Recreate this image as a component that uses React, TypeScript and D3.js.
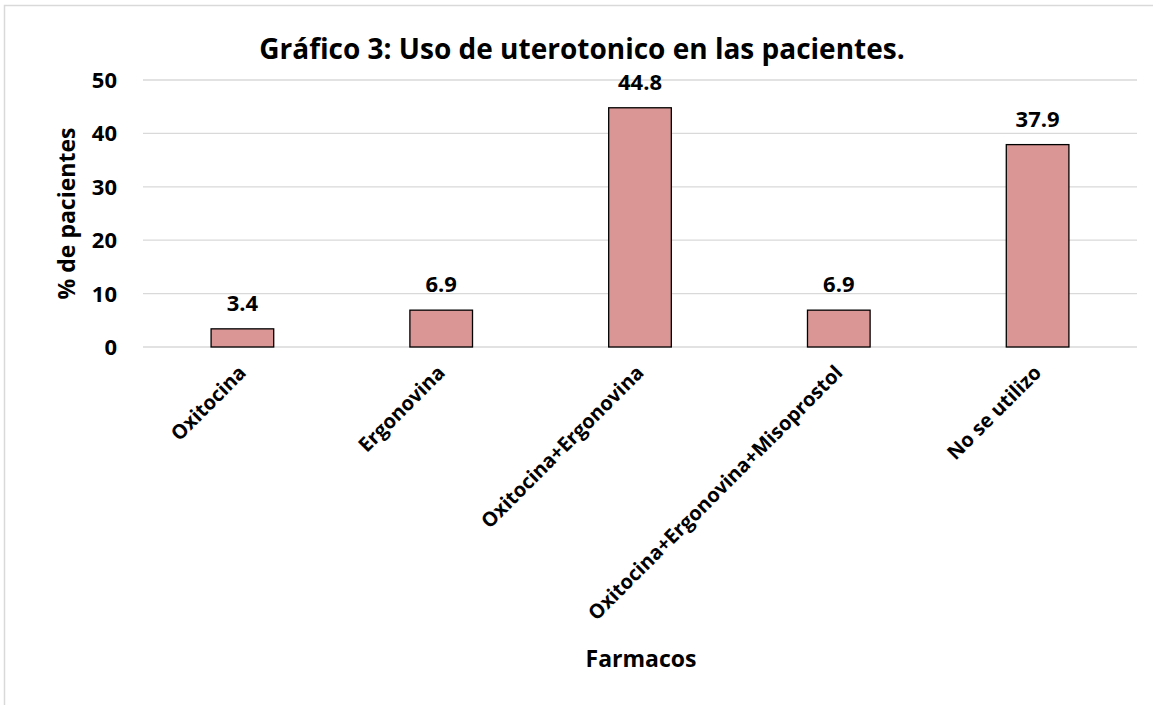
import React, { useEffect, useRef } from 'react'
import * as d3 from 'd3'

const categories = ['Oxitocina', 'Ergonovina', 'Oxitocina+Ergonovina', 'Oxitocina+Ergonovina+Misoprostol', 'No se utilizo']
const values = [3.4, 6.9, 44.8, 6.9, 37.9]
const yTicks = [0, 10, 20, 30, 40, 50]

const FONT = '"Open Sans", "Noto Sans", sans-serif'

export default function App() {
  const ref = useRef<SVGSVGElement | null>(null)

  useEffect(() => {
    const width = 1153
    const height = 705
    const margin = { top: 80, right: 16, bottom: 358, left: 143 }
    const svg = d3.select(ref.current!)
    svg.selectAll('*').remove()

    // chart frame
    svg.append('rect').attr('x', 4.5).attr('y', 5.5).attr('width', width + 10).attr('height', height + 10)
      .attr('fill', '#fff').attr('stroke', '#d9d9d9').attr('stroke-width', 1.5)

    const x = d3.scaleBand<string>().domain(categories).range([margin.left, width - margin.right]).paddingInner(0.685).paddingOuter(0.3425)
    const y = d3.scaleLinear().domain([0, 50]).range([height - margin.bottom, margin.top])

    const g = svg.append('g')
    g.append('g').selectAll('line').data(yTicks).enter().append('line')
      .attr('x1', margin.left).attr('x2', width - margin.right)
      .attr('y1', d => y(d)).attr('y2', d => y(d))
      .attr('stroke', '#d9d9d9').attr('stroke-width', 1.3)

    g.append('g').selectAll('text').data(yTicks).enter().append('text')
      .attr('x', 117).attr('y', d => y(d)).attr('dy', '0.36em').attr('text-anchor', 'end')
      .attr('font-family', FONT).attr('font-weight', 700).attr('font-size', 22).text(d => d)

    g.append('g').selectAll('rect').data(values).enter().append('rect')
      .attr('x', (d, i) => x(categories[i]) ?? 0)
      .attr('y', d => y(d))
      .attr('width', x.bandwidth())
      .attr('height', d => y(0) - y(d))
      .attr('fill', '#d99694').attr('stroke', '#000').attr('stroke-width', 1.3)

    g.append('g').selectAll('text').data(values).enter().append('text')
      .attr('x', (d, i) => (x(categories[i]) ?? 0) + x.bandwidth() / 2)
      .attr('y', d => y(d) - 18)
      .attr('text-anchor', 'middle')
      .attr('font-family', FONT).attr('font-weight', 700).attr('font-size', 22).text(d => d.toFixed(1))

    g.append('g').selectAll('text').data(categories).enter().append('text')
      .attr('transform', d => `translate(${(x(d) ?? 0) + x.bandwidth() / 2 + 5},${y(0) + 27}) rotate(-45)`)
      .attr('text-anchor', 'end')
      .attr('font-family', FONT).attr('font-weight', 700).attr('font-size', 20).text(d => d)

    svg.append('text').attr('x', 582).attr('y', 59).attr('text-anchor', 'middle')
      .attr('font-family', FONT).attr('font-weight', 700).attr('font-size', 28)
      .text('Gráfico 3: Uso de uterotonico en las pacientes.')

    svg.append('text').attr('transform', `translate(75,${(y(0) + y(50)) / 2}) rotate(-90)`).attr('text-anchor', 'middle')
      .attr('font-family', FONT).attr('font-weight', 700).attr('font-size', 23).text('% de pacientes')

    svg.append('text').attr('x', 641).attr('y', 667).attr('text-anchor', 'middle')
      .attr('font-family', FONT).attr('font-weight', 700).attr('font-size', 23).text('Farmacos')
  }, [])

  return <svg ref={ref} width={1153} height={705} style={{ position: 'absolute', left: 0, top: 0 }} />
}
